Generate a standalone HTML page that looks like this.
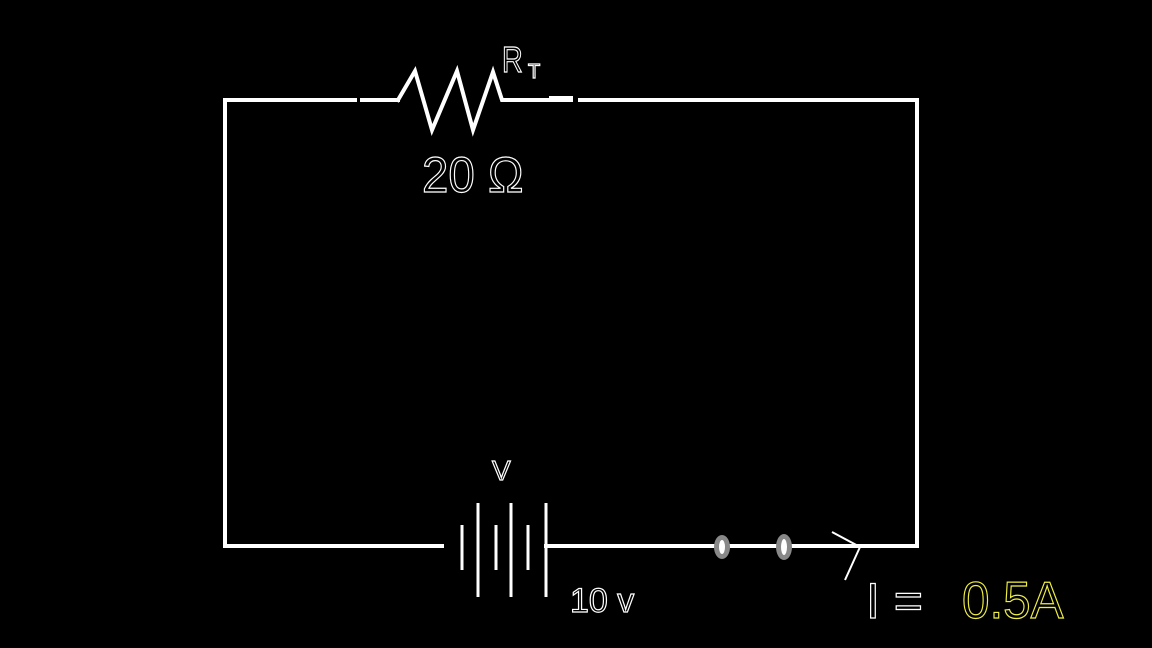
<!DOCTYPE html>
<html><head><style>html,body{margin:0;padding:0;background:#000;width:1152px;height:648px;overflow:hidden}</style></head>
<body>
<svg width="1152" height="648" viewBox="0 0 1152 648" xmlns="http://www.w3.org/2000/svg">
<rect width="1152" height="648" fill="#000"/>
<g stroke="#fff" stroke-width="4" fill="none" stroke-linecap="square">
<polyline points="355,100 225,100 225,546 442,546"/>
<line x1="362" y1="100" x2="398" y2="100"/>
<polyline points="398,100 415,71 432,130 457,71 473,130 493,72 502,100 560,100"/>
<line x1="552" y1="99" x2="570" y2="99" stroke-width="6"/>
<polyline points="580,100 917,100 917,546 546,546"/>
</g>
<g stroke="#fff" stroke-width="3">
<line x1="462" y1="525" x2="462" y2="570"/>
<line x1="478" y1="503" x2="478" y2="597"/>
<line x1="496" y1="525" x2="496" y2="570"/>
<line x1="511" y1="503" x2="511" y2="597"/>
<line x1="528" y1="525" x2="528" y2="570"/>
<line x1="546" y1="503" x2="546" y2="597"/>
</g>
<ellipse cx="722" cy="547" rx="8" ry="12" fill="#888"/>
<ellipse cx="722" cy="547" rx="3" ry="7" fill="#fff"/>
<ellipse cx="784" cy="547" rx="8" ry="13" fill="#888"/>
<ellipse cx="784" cy="547" rx="3" ry="8" fill="#fff"/>
<polyline points="832,532 860,547 845,580" stroke="#fff" stroke-width="2" fill="none"/>
<g font-family="Liberation Sans, sans-serif" fill="none" stroke-width="1.2">
<text x="502" y="72" font-size="36" stroke="#fff" transform="translate(502 72) scale(0.8 1) translate(-502 -72)">R</text>
<text x="528" y="78" font-size="20" stroke="#fff">T</text>
<text x="422" y="192" font-size="50" stroke="#fff" transform="translate(422 192) scale(0.95 1) translate(-422 -192)">20 Ω</text>
<text x="492" y="480" font-size="28" stroke="#fff">V</text>
<text x="570" y="612" font-size="34" stroke="#fff">10 v</text>
<text x="866" y="618" font-size="50" stroke="#fff">I =</text>
<text x="962" y="618" font-size="52" stroke="#ee4" transform="translate(962 618) scale(0.95 1) translate(-962 -618)">0.5A</text>
</g>
</svg>
</body></html>
